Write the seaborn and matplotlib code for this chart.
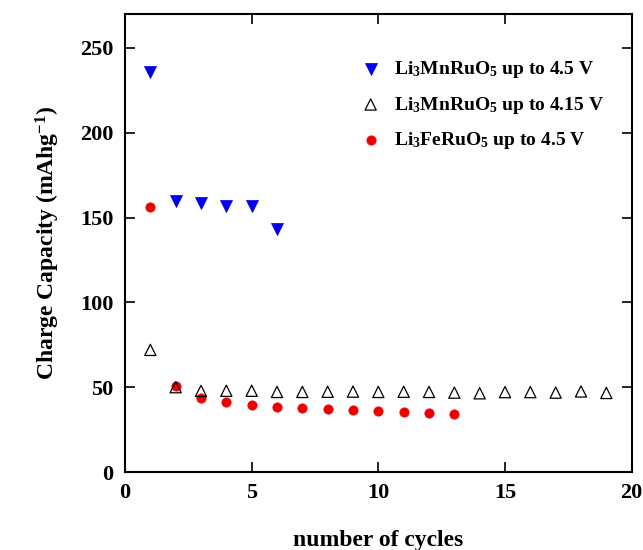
"""
Charge capacity vs cycle number for Li3MnRuO5 / Li3FeRuO5
"""

import pandas as pd
import matplotlib.pyplot as plt
import seaborn as sns

# data
cycles_mn45 = [1, 2, 3, 4, 5, 6]
cap_mn45 = [236, 160, 158.5, 157, 157, 143]

cycles_mn415 = list(range(1, 20))
cap_mn415 = [72, 50, 47.8, 47.9, 47.9, 47.2, 47.2, 47.3, 47.4, 47.2, 47.3, 47.2,
             46.8, 46.4, 47.1, 47.1, 46.8, 47.5, 46.6]

cycles_fe45 = list(range(1, 14))
cap_fe45 = [156, 50.5, 43.6, 41.3, 39.3, 38.1, 37.5, 37, 36.4, 36, 35.4, 35, 34.4]

label_mn45 = r'Li$_\mathbf{3}$MnRuO$_\mathbf{5}$ up to 4.5 V'
label_mn415 = r'Li$_\mathbf{3}$MnRuO$_\mathbf{5}$ up to 4.15 V'
label_fe45 = r'Li$_\mathbf{3}$FeRuO$_\mathbf{5}$ up to 4.5 V'

df_mn45 = pd.DataFrame({'cycle': cycles_mn45, 'capacity': cap_mn45})
df_mn415 = pd.DataFrame({'cycle': cycles_mn415, 'capacity': cap_mn415})
df_fe45 = pd.DataFrame({'cycle': cycles_fe45, 'capacity': cap_fe45})

sns.set_style('ticks')
plt.rcParams['font.family'] = ['Liberation Serif', 'DejaVu Serif']
plt.rcParams['font.weight'] = 'bold'
plt.rcParams['mathtext.fontset'] = 'custom'
plt.rcParams['mathtext.rm'] = 'Liberation Serif:bold'
plt.rcParams['mathtext.it'] = 'Liberation Serif:bold'
plt.rcParams['mathtext.bf'] = 'Liberation Serif:bold'
for key in ['text.color', 'axes.labelcolor', 'xtick.color', 'ytick.color',
            'axes.edgecolor']:
    plt.rcParams[key] = 'black'

fig = plt.figure(figsize=(6.43, 5.5), dpi=100)
ax = fig.add_axes([0.1944, 0.1418, 0.788, 0.8327])

sns.scatterplot(data=df_mn45, x='cycle', y='capacity', marker='v', s=75,
                color='#0000ee', edgecolor='#0000ee', linewidth=0.5,
                label=label_mn45, ax=ax, zorder=3)
sns.scatterplot(data=df_fe45, x='cycle', y='capacity', marker='o', s=45,
                color='#ee0000', edgecolor='#ee0000', linewidth=0.5,
                label=label_fe45, ax=ax, zorder=3)
sns.scatterplot(data=df_mn415, x='cycle', y='capacity', marker='^', s=65,
                facecolor='none', edgecolor='black', linewidth=0.9,
                label=label_mn415, ax=ax, zorder=4)

ax.set_xlim(0, 20)
ax.set_ylim(0, 270)
ax.set_xticks([0, 5, 10, 15, 20])
ax.set_yticks([0, 50, 100, 150, 200, 250])
ax.tick_params(direction='in', length=7, width=1.2, top=True, right=True,
               labelsize=16)
ax.tick_params(axis='y', pad=8.5)
ax.tick_params(axis='x', pad=8)
for lbl in ax.get_xticklabels() + ax.get_yticklabels():
    lbl.set_fontweight('bold')
for sp in ax.spines.values():
    sp.set_linewidth(1.5)

ax.set_xlabel('number of cycles', fontsize=17, fontweight='bold', labelpad=19)
ax.set_ylabel(r'Charge Capacity (mAhg$^\mathbf{-1}$)', fontsize=17,
              fontweight='bold', labelpad=13)

handles, labels = ax.get_legend_handles_labels()
order = [0, 2, 1]
ax.legend([handles[i] for i in order], [labels[i] for i in order],
          loc='upper right', bbox_to_anchor=(0.98, 0.94), frameon=False,
          fontsize=14, handletextpad=0.2, labelspacing=0.75, markerscale=1.0)

plt.savefig('out.png', dpi=100)
plt.close()
